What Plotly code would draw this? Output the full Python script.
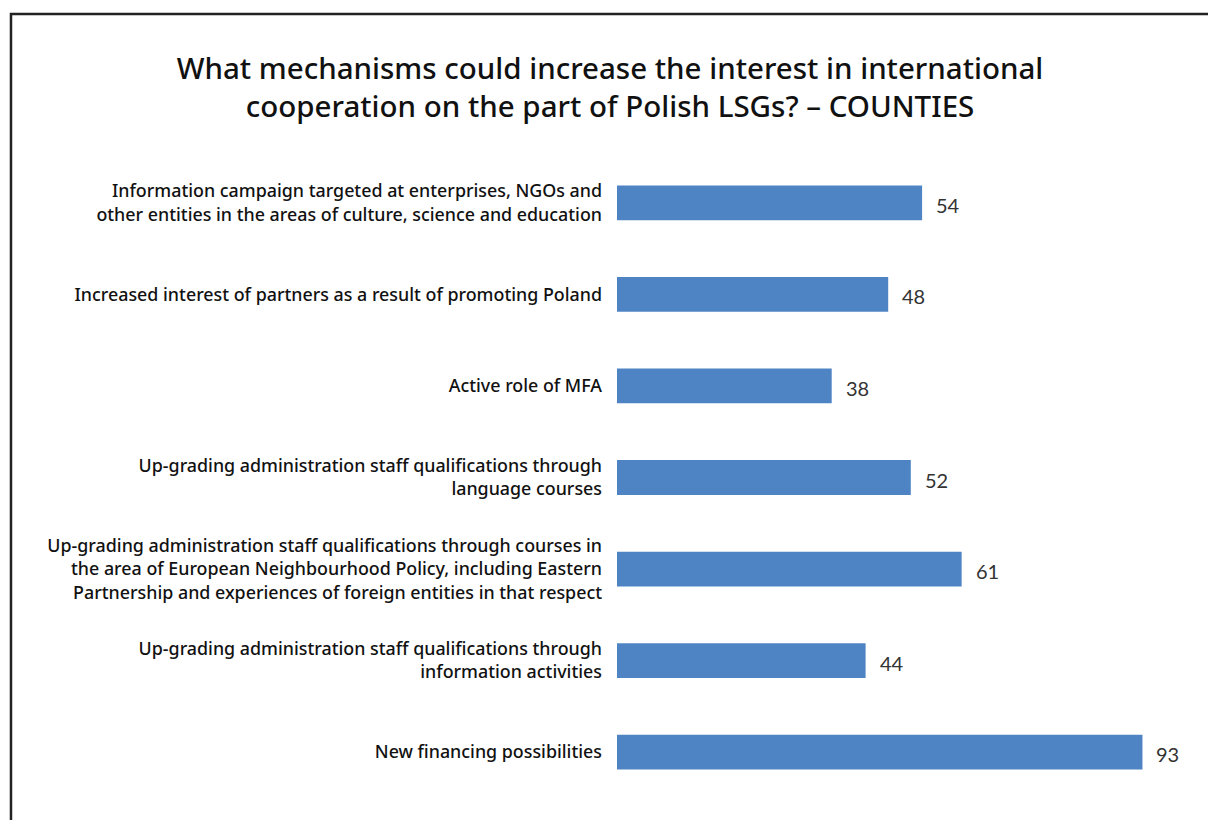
import plotly.graph_objects as go

# Survey answers (counties) and number of indications
mechanisms = [
    "Information campaign targeted at enterprises, NGOs and<br>other entities in the areas of culture, science and education",
    "Increased interest of partners as a result of promoting Poland",
    "Active role of MFA",
    "Up-grading administration staff qualifications through<br>language courses",
    "Up-grading administration staff qualifications through courses in<br>the area of European Neighbourhood Policy, including Eastern<br>Partnership and experiences of foreign entities in that respect",
    "Up-grading administration staff qualifications through<br>information activities",
    "New financing possibilities",
]
counts = [54, 48, 38, 52, 61, 44, 93]

title_text = ("What mechanisms could increase the interest in international<br>"
              "cooperation on the part of Polish LSGs? \u2013 COUNTIES")

LABEL_FONT = "Noto Sans"
BAR_COLOR = "#4f84c4"

fig = go.Figure(
    go.Bar(
        x=counts,
        y=mechanisms,
        orientation="h",
        marker=dict(color=BAR_COLOR, line=dict(width=0)),
        width=0.38,
        hoverinfo="x+y",
    )
)

# value labels placed just past the end of each bar
for m, c in zip(mechanisms, counts):
    fig.add_annotation(
        x=c, y=m, text=str(c), showarrow=False,
        xanchor="left", xshift=12, yshift=-2,
        font=dict(family="Lato", size=20, color="#333333"),
    )

# frame around the chart (its right and bottom edges run off the page)
fig.add_shape(
    type="rect", xref="paper", yref="paper",
    x0=-1.0726, x1=1.2, y0=-0.2, y1=1.2231,
    line=dict(color="#222222", width=2.5), fillcolor="rgba(0,0,0,0)",
    layer="below",
)

fig.update_layout(
    width=1208, height=820,
    margin=dict(l=617, r=26, t=157, b=22),
    paper_bgcolor="white", plot_bgcolor="white",
    showlegend=False,
    title=dict(
        text=title_text, x=0.505, xref="container", xanchor="center",
        y=0.904, yanchor="middle",
        font=dict(family=LABEL_FONT, size=29.5, color="#111111", weight=500),
    ),
    xaxis=dict(range=[0, 100], visible=False, fixedrange=True),
    yaxis=dict(
        autorange="reversed", showline=False, showgrid=False, ticks="",
        ticklabelstandoff=14,
        tickfont=dict(family=LABEL_FONT, size=17.85, color="#111111", weight=500),
    ),
)

fig.write_html("out.html")
